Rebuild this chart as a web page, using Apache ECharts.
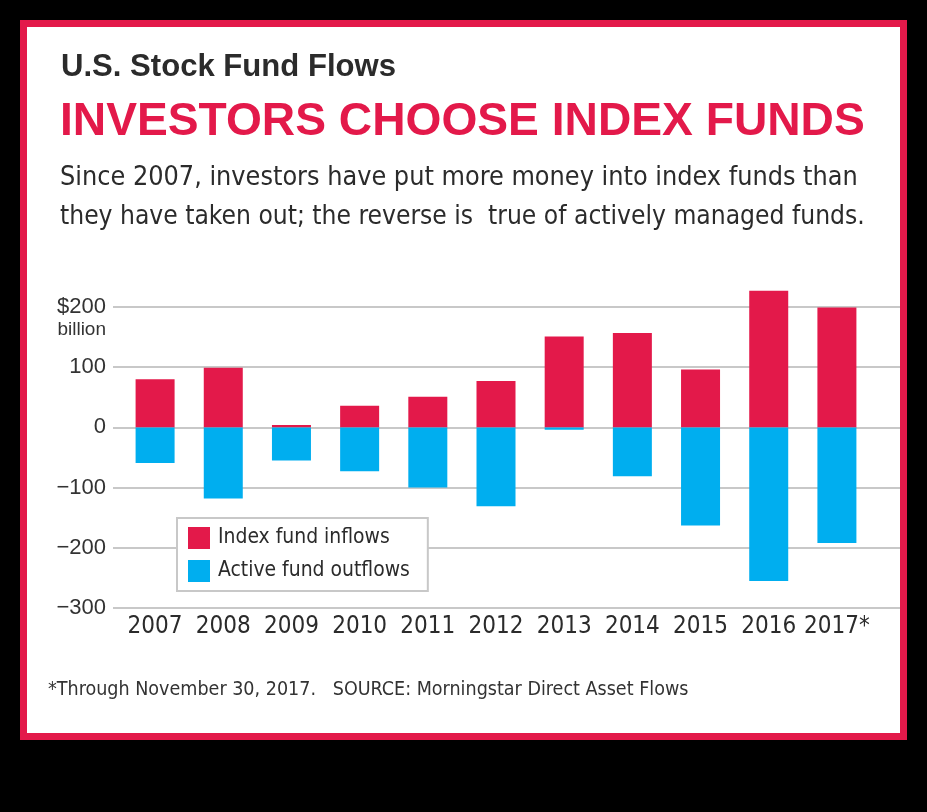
<!DOCTYPE html>
<html>
<head>
<meta charset="utf-8">
<script src="https://cdn.jsdelivr.net/npm/echarts@6/dist/echarts.min.js"></script>
<style>
  html, body { margin: 0; padding: 0; background: #000; width: 927px; height: 812px; overflow: hidden; }
  #frame { position: absolute; left: 20px; top: 20px; width: 873px; height: 706px; border: 7px solid #e3194a; background: #fff; }
  #chart { position: absolute; left: 0; top: 0; width: 873px; height: 706px; }
</style>
</head>
<body>
<div id="frame"><div id="chart"></div></div>
<script>
// ---- data ----
const years = ['2007', '2008', '2009', '2010', '2011', '2012', '2013', '2014', '2015', '2016', '2017*'];
const indexInflows = [80, 99, 4, 36, 51, 77, 151, 157, 96, 227, 199];
const activeOutflows = [-59, -118, -55, -73, -100, -131, -4, -81, -163, -255, -192];
const yTicks = [-300, -200, -100, 0, 100, 200];
const seriesNames = ['Index fund inflows', 'Active fund outflows'];

const kicker = 'U.S. Stock Fund Flows';
const headline = 'INVESTORS CHOOSE INDEX FUNDS';
const deck1 = 'Since 2007, investors have put more money into index funds than';
const deck2 = 'they have taken out; the reverse is  true of actively managed funds.';
const footnote = '*Through November 30, 2017.   SOURCE: Morningstar Direct Asset Flows';

// ---- styling ----
const RED = '#e3194a';
const BLUE = '#00aeef';
const DARK = '#2b2b2b';
const WIDE = '"Liberation Sans", Arial, "DejaVu Sans", sans-serif';
const NARROW = '"Liberation Sans Narrow", "DejaVu Sans Condensed", "Roboto Condensed", "Liberation Sans", sans-serif';

const ctx = document.createElement('canvas').getContext('2d');
function fit(text, weight, family, target) {
  ctx.font = weight + ' 100px ' + family;
  return 100 * target / ctx.measureText(text).width;
}

const fKicker = fit(kicker, 'bold', WIDE, 335);
const fHead = fit(headline, 'bold', WIDE, 805);
const fDeck1 = fit(deck1, 'normal', NARROW, 798);
const fDeck2 = fit(deck2, 'normal', NARROW, 805);
const fFoot = fit(footnote, 'normal', NARROW, 641);
const fLegend = fit(seriesNames[1], 'normal', NARROW, 192);
const fX = 24;

function titleAt(text, left, center, size, weight, color, family) {
  return {
    text: text, left: left, top: center - size / 2, padding: 0,
    textStyle: { fontSize: size, lineHeight: size, fontWeight: weight, color: color, fontFamily: family }
  };
}

const chart = echarts.init(document.getElementById('chart'), null, { renderer: 'canvas' });

const option = {
  animation: false,
  backgroundColor: '#fff',
  title: [
    titleAt(kicker, 34, 40, fKicker, 'bold', DARK, WIDE),
    titleAt(headline, 33, 95, fHead, 'bold', RED, WIDE),
    titleAt(deck1, 33, 151, fDeck1, 'normal', DARK, NARROW),
    titleAt(deck2, 33, 190, fDeck2, 'normal', DARK, NARROW),
    titleAt(footnote, 21, 663, fFoot, 'normal', '#333', NARROW)
  ],
  legend: {
    data: seriesNames,
    orient: 'vertical',
    left: 150, top: 491,
    itemWidth: 22, itemHeight: 22, itemGap: 11,
    icon: 'rect',
    padding: [9, 18, 9, 11],
    backgroundColor: '#fff',
    borderColor: '#c8c8c8', borderWidth: 2, borderRadius: 0,
    textStyle: { fontSize: fLegend, color: DARK, fontFamily: NARROW, padding: [0, 0, 0, 3] },
    z: 10
  },
  grid: [
    { left: 86, right: 0, top: 280, bottom: 125 },
    { left: 94, right: 29, top: 280, bottom: 125 }
  ],
  xAxis: [
    { gridIndex: 0, type: 'category', data: years, show: false },
    {
      gridIndex: 1, type: 'category', data: years,
      axisLine: { show: false }, axisTick: { show: false },
      axisLabel: { fontSize: fX, lineHeight: fX, color: DARK, fontFamily: NARROW, margin: 7, interval: 0 }
    }
  ],
  yAxis: [
    {
      gridIndex: 0, type: 'value', min: yTicks[0], max: yTicks[yTicks.length - 1], interval: 100,
      axisLine: { show: false }, axisTick: { show: false },
      splitLine: { lineStyle: { color: '#c8c8c8', width: 2 } },
      axisLabel: {
        margin: 7, color: '#333', fontFamily: WIDE, fontSize: 22,
        formatter: function (v) {
          if (v === yTicks[yTicks.length - 1]) return '{e|}\n{a|$' + v + '}\n{b|billion}';
          return v < 0 ? '\u2212' + Math.abs(v) : String(v);
        },
        rich: {
          e: { fontSize: 19, lineHeight: 22, align: 'right' },
          a: { fontSize: 22, lineHeight: 24, color: '#333', fontFamily: WIDE, align: 'right' },
          b: { fontSize: 19, lineHeight: 22, color: '#333', fontFamily: WIDE, align: 'right' }
        }
      }
    },
    {
      gridIndex: 1, type: 'value', min: yTicks[0], max: yTicks[yTicks.length - 1], interval: 100,
      show: false, splitLine: { show: false }
    }
  ],
  series: [
    {
      name: seriesNames[0], type: 'bar', xAxisIndex: 1, yAxisIndex: 1,
      data: indexInflows, barWidth: 39, barGap: '-100%', clip: false,
      itemStyle: { color: RED }, z: 3
    },
    {
      name: seriesNames[1], type: 'bar', xAxisIndex: 1, yAxisIndex: 1,
      data: activeOutflows, barWidth: 39, barGap: '-100%', clip: false,
      itemStyle: { color: BLUE }, z: 3
    }
  ]
};
chart.setOption(option);
</script>
</body>
</html>
